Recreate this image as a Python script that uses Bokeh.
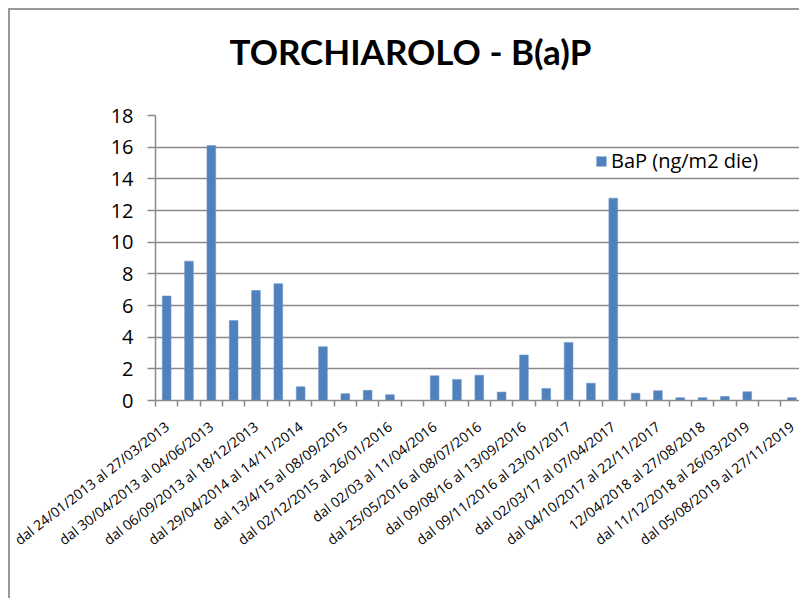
from bokeh.plotting import figure
from bokeh.models import FixedTicker, Range1d, Legend, LegendItem, Title, ColumnDataSource
from bokeh.embed import file_html
from bokeh.resources import INLINE

# ---- data ----
bap_values = [6.6, 8.8, 16.1, 5.05, 6.95, 7.38, 0.87, 3.4, 0.43, 0.64, 0.37, 0.0,
              1.56, 1.33, 1.6, 0.53, 2.87, 0.76, 3.67, 1.09, 12.78, 0.46, 0.62,
              0.18, 0.18, 0.25, 0.55, 0.0, 0.18]
tick_labels = [
    "dal 24/01/2013 al 27/03/2013",
    "dal 30/04/2013 al 04/06/2013",
    "dal 06/09/2013 al 18/12/2013",
    "dal 29/04/2014 al 14/11/2014",
    "dal 13/4/15 al 08/09/2015",
    "dal 02/12/2015 al 26/01/2016",
    "dal 02/03 al 11/04/2016",
    "dal 25/05/2016 al 08/07/2016",
    "dal 09/08/16 al 13/09/2016",
    "dal 09/11/2016 al 23/01/2017",
    "dal 02/03/17 al 07/04/2017",
    "dal 04/10/2017 al 22/11/2017",
    "12/04/2018 al 27/08/2018",
    "dal 11/12/2018 al 26/03/2019",
    "dal 05/08/2019 al 27/11/2019",
]
series_name = "BaP (ng/m2 die)"
title_text = "TORCHIAROLO - B(a)P"
y_ticks = [0, 2, 4, 6, 8, 10, 12, 14, 16, 18]

n = len(bap_values)
positions = list(range(1, n + 1))
label_positions = positions[::2]

GRAY = "#8a8a8a"
BLUE = "#4f81bd"

W, H = 791, 590
LEFT, TOP, BOTTOM = 145, 105, 200
p = figure(width=W, height=H, output_backend="svg", toolbar_location=None,
           x_range=Range1d(0.5, 0.5 + (W - LEFT) / 22.33), y_range=Range1d(0, 18),
           min_border_left=LEFT, min_border_right=0, min_border_top=TOP,
           min_border_bottom=BOTTOM)
p.styles = {"margin-left": "8px", "margin-top": "8px",
            "border-left": "2px solid #999999", "border-top": "2px solid #999999"}
p.outline_line_color = None
p.background_fill_color = "white"
p.border_fill_color = "white"

src = ColumnDataSource(dict(x=positions, y=bap_values))
r = p.vbar(x="x", top="y", width=0.39, source=src, fill_color=BLUE,
           line_color="#6f97c9", line_width=0.6)

# y axis
yax = p.yaxis[0]
yax.ticker = FixedTicker(ticks=y_ticks)
yax.axis_line_color = GRAY
yax.axis_line_width = 1.5
yax.major_tick_line_color = GRAY
yax.major_tick_line_width = 1.5
yax.major_tick_in = 0
yax.major_tick_out = 8
yax.minor_tick_line_color = None
yax.major_label_standoff = 14
yax.major_label_text_font = "Open Sans"
yax.major_label_text_font_size = "20px"
yax.major_label_text_color = "black"

p.ygrid.ticker = FixedTicker(ticks=y_ticks)
p.ygrid.grid_line_color = GRAY
p.ygrid.grid_line_width = 1.5
p.xgrid.grid_line_color = None

# x axis
xax = p.xaxis[0]
xax.ticker = FixedTicker(ticks=label_positions,
                         minor_ticks=[i + 0.5 for i in range(0, n + 1)])
xax.major_label_overrides = {pos: lab for pos, lab in zip(label_positions, tick_labels)}
xax.axis_line_color = GRAY
xax.axis_line_width = 1.5
xax.major_tick_line_color = None
xax.major_tick_in = 0
xax.major_tick_out = 0
xax.minor_tick_line_color = GRAY
xax.minor_tick_line_width = 1.5
xax.minor_tick_in = 0
xax.minor_tick_out = 6
xax.major_label_orientation = 0.66
xax.major_label_standoff = 18
xax.major_label_text_font = "Open Sans"
xax.major_label_text_font_size = "14px"
xax.major_label_text_color = "black"

# title (spacer title first: it sits closest to the frame)
spacer = Title(text=" ", text_font_size="10px", standoff=25)
p.add_layout(spacer, "above")
t = Title(text=title_text, align="left", offset=74, text_font="Lato",
          text_font_style="bold", text_font_size="35px", text_color="black",
          vertical_align="middle", standoff=10)
p.add_layout(t, "above")

# legend
legend = Legend(items=[LegendItem(label=series_name, renderers=[r])],
                location=(440, 226), glyph_width=12, glyph_height=12,
                padding=0, margin=0, label_standoff=4,
                label_text_font="Open Sans", label_text_font_size="20px",
                label_text_color="black", border_line_color=None,
                background_fill_alpha=0)
p.add_layout(legend, "center")

open("out.html", "w").write(file_html(p, INLINE))
